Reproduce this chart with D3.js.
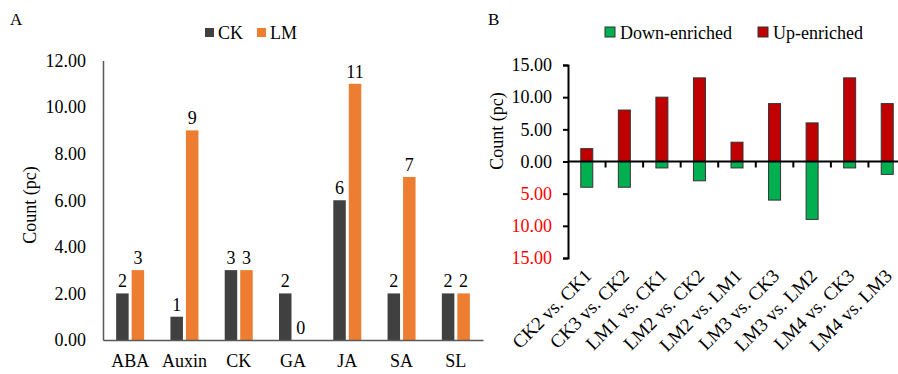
<!DOCTYPE html>
<html>
<head>
<meta charset="utf-8">
<script src="https://cdn.jsdelivr.net/npm/d3@7"></script>
<style>
  html, body { margin: 0; padding: 0; background: #fff; }
  svg text { font-family: "Liberation Serif", "Times New Roman", serif; }
</style>
</head>
<body>
<svg id="chart" width="898" height="374"></svg>
<script>
// ---- Panel A data ----
const hormones = ["ABA", "Auxin", "CK", "GA", "JA", "SA", "SL"];
const ckValues = [2, 1, 3, 2, 6, 2, 2];
const lmValues = [3, 9, 3, 0, 11, 7, 2];
const aTicks = [0, 2, 4, 6, 8, 10, 12];
const aSeries = ["CK", "LM"];

// ---- Panel B data ----
const comparisons = ["CK2 vs. CK1", "CK3 vs. CK2", "LM1 vs. CK1", "LM2 vs. CK2", "LM2 vs. LM1",
                     "LM3 vs. CK3", "LM3 vs. LM2", "LM4 vs. CK3", "LM4 vs. LM3"];
const upValues = [2, 8, 10, 13, 3, 9, 6, 13, 9];
const downValues = [4, 4, 1, 3, 1, 6, 9, 1, 2];
const bTicks = [15, 10, 5, 0, -5, -10, -15];
const bSeries = ["Down-enriched", "Up-enriched"];

const svg = d3.select("#chart");
const FS = 18;

// ================= Panel A =================
const colA = { CK: "#404040", LM: "#ED7D31" };
const xA = d3.scaleBand().domain(hormones).range([103, 483]).padding(0);
const yA = d3.scaleLinear().domain([0, 12]).range([340, 60.5]);
const gA = svg.append("g");

gA.append("text").attr("x", 10).attr("y", 25).attr("font-size", 17).text("A");

// y axis
const axA = d3.axisLeft(yA).tickValues(aTicks).tickSize(0).tickPadding(17).tickFormat(d3.format(".2f"));
const gyA = gA.append("g").attr("transform", "translate(103,0)").call(axA);
gyA.select(".domain").attr("stroke", "#595959").attr("stroke-width", 1.5);
gyA.selectAll("text").attr("font-size", FS).attr("fill", "#000").attr("font-family", "Liberation Serif");

// bars
const bwA = 12.5;
const offA = { CK: -14, LM: 1.5 };
hormones.forEach((h, i) => {
  const c = xA(h) + xA.bandwidth() / 2;
  [["CK", ckValues[i]], ["LM", lmValues[i]]].forEach(([s, v]) => {
    gA.append("rect")
      .attr("x", c + offA[s]).attr("width", bwA)
      .attr("y", yA(v)).attr("height", yA(0) - yA(v))
      .attr("fill", colA[s]);
    gA.append("text")
      .attr("x", c + offA[s] + bwA / 2).attr("y", yA(v) - 6)
      .attr("text-anchor", "middle").attr("font-size", FS).text(v);
  });
});

// x axis
const axXA = d3.axisBottom(xA).tickSize(0).tickPadding(14);
const gxA = gA.append("g").attr("transform", "translate(0,340)").call(axXA);
gxA.select(".domain").attr("stroke", "#595959").attr("stroke-width", 1.5);
gxA.selectAll("text").attr("font-size", FS).attr("fill", "#000").attr("font-family", "Liberation Serif");

// y label
gA.append("text").attr("transform", "translate(36,205) rotate(-90)")
  .attr("text-anchor", "middle").attr("font-size", FS).text("Count (pc)");

// legend
const legA = gA.append("g");
const legAX = { CK: 205, LM: 257 };
aSeries.forEach(s => {
  legA.append("rect").attr("x", legAX[s]).attr("y", 28).attr("width", 9).attr("height", 9).attr("fill", colA[s]);
  legA.append("text").attr("x", legAX[s] + 13).attr("y", 38.5).attr("font-size", FS).text(s);
});

// ================= Panel B =================
const colB = { "Down-enriched": "#00B050", "Up-enriched": "#C00000" };
const xB = d3.scaleBand().domain(comparisons).range([568, 906]).padding(0);
const yB = d3.scaleLinear().domain([-15, 15]).range([258, 65]);
const gB = svg.append("g");

gB.append("text").attr("x", 488).attr("y", 25).attr("font-size", 17).text("B");

const axB = d3.axisLeft(yB).tickValues(bTicks).tickSize(5).tickPadding(11)
  .tickFormat(d => d3.format(".2f")(Math.abs(d)));
const gyB = gB.append("g").attr("transform", "translate(568,0)").call(axB);
gyB.select(".domain").attr("stroke", "#000").attr("stroke-width", 2);
gyB.selectAll(".tick line").attr("stroke", "#000").attr("stroke-width", 2);
gyB.selectAll("text").attr("font-size", FS).attr("font-family", "Liberation Serif")
  .attr("fill", d => d < 0 ? "#FF0000" : "#000");

const bwB = 12;
comparisons.forEach((c, i) => {
  const cx = xB(c) + xB.bandwidth() / 2;
  gB.append("rect").attr("x", cx - bwB / 2).attr("width", bwB)
    .attr("y", yB(upValues[i])).attr("height", yB(0) - yB(upValues[i]))
    .attr("fill", colB["Up-enriched"]).attr("stroke", "#333").attr("stroke-width", 1);
  gB.append("rect").attr("x", cx - bwB / 2).attr("width", bwB)
    .attr("y", yB(0)).attr("height", yB(-downValues[i]) - yB(0))
    .attr("fill", colB["Down-enriched"]).attr("stroke", "#333").attr("stroke-width", 1);
});

// x axis at zero with ticks at band boundaries
gB.append("line").attr("x1", 568).attr("x2", 906).attr("y1", yB(0)).attr("y2", yB(0))
  .attr("stroke", "#000").attr("stroke-width", 2);
comparisons.forEach((c, i) => {
  if (i === 0) return;
  gB.append("line").attr("x1", xB(c)).attr("x2", xB(c))
    .attr("y1", yB(0)).attr("y2", yB(0) + 6)
    .attr("stroke", "#000").attr("stroke-width", 2);
});

// rotated category labels
comparisons.forEach(c => {
  const cx = xB(c) + xB.bandwidth() / 2;
  gB.append("text").attr("transform", `translate(${cx + 6},277) rotate(-45)`)
    .attr("text-anchor", "end").attr("font-size", 19).text(c);
});

gB.append("text").attr("transform", "translate(503,131) rotate(-90)")
  .attr("text-anchor", "middle").attr("font-size", FS).text("Count (pc)");

const legBX = { "Down-enriched": 605, "Up-enriched": 758 };
bSeries.forEach(s => {
  gB.append("rect").attr("x", legBX[s]).attr("y", 27).attr("width", 10).attr("height", 10)
    .attr("fill", colB[s]).attr("stroke", "#333").attr("stroke-width", 1);
  gB.append("text").attr("x", legBX[s] + 15).attr("y", 38.5).attr("font-size", FS).text(s);
});
</script>
</body>
</html>
